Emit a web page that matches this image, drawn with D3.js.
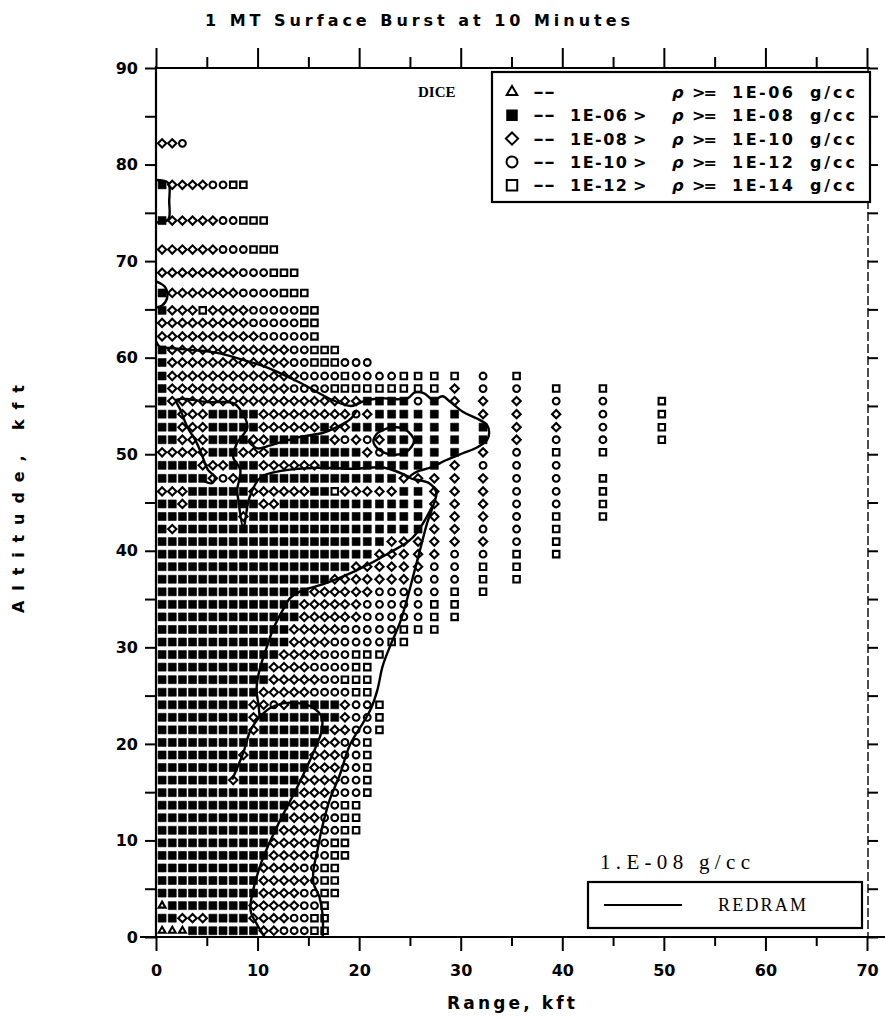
<!DOCTYPE html>
<html>
<head>
<meta charset="utf-8">
<script src="https://cdn.jsdelivr.net/npm/d3@7"></script>
<style>
  body { margin: 0; background: #fff; }
  svg text { fill: #000; }
</style>
</head>
<body>
<div id="chart"></div>
<script>
// DICE mesh column centres (range, kft)
const colRange = [0.6, 1.6, 2.6, 3.6, 4.6, 5.6, 6.6, 7.6, 8.6, 9.6, 10.6, 11.6, 12.6, 13.6, 14.6, 15.6,
  16.6, 17.6, 18.6, 19.7, 20.8, 22.0, 23.2, 24.4, 25.8, 27.4, 29.4, 32.2, 35.5, 39.4, 44.0, 49.8];

// DICE mesh row centres (altitude, kft)
const rowAlt = [0.65, 1.95, 3.25, 4.55, 5.85, 7.15, 8.45, 9.75, 11.05, 12.35, 13.65, 14.95, 16.25, 17.55,
  18.85, 20.15, 21.45, 22.75, 24.05, 25.35, 26.65, 27.95, 29.25, 30.55, 31.85, 33.15, 34.45, 35.75,
  37.05, 38.35, 39.65, 40.95, 42.25, 43.55, 44.85, 46.15, 47.5, 48.85, 50.2, 51.5, 52.8, 54.15,
  55.5, 56.8, 58.1, 59.5, 60.8, 62.2, 63.6, 64.9, 66.7, 68.8, 71.2, 74.2, 77.9, 82.2];

// density class per cell, one string per row (t: >=1E-6, F: 1E-6..1E-8, D: 1E-8..1E-10,
// C: 1E-10..1E-12, S: 1E-12..1E-14, '.': none)
const rowCells = [
  "tttFFFFFFFDDCCCSS",
  "FFDDDFFFFDDDDCCSS",
  "tFFFFFFFFDDDDDCCS",
  "FFFFFFFFFFDDDDCCSS",
  "FFFFFFFFFFDDDDDCSS",
  "FFFFFFFFFFDDDDCCSS",
  "FFFFFFFFFFFDDDDCCSS",
  "FFFFFFFFFFFDDDDCCSS",
  "FFFFFFFFFFFFDDDDCCSS",
  "FFFFFFFFFFFFFDDDCCSS",
  "FFFFFFFFFFFFFDDDCCSS",
  "FFFFFFFFFFFFFFDDDCCCS",
  "FFFFFFFDFFFFFFDDDDCCS",
  "FFFFFFFFFFFFFFFDDDCCS",
  "FFFFFFFFDFFFFFFDDDCCS",
  "FFFFFFFFFFFFFFFFDDCCS",
  "FFFFFFFFFDFFFFFFFDDCCS",
  "FFFFFFFFFDFFFFFFFFDCCS",
  "FFFFFFFFFDDCDFFFFFDCCS",
  "FFFFFFFFFFDDDDDCCCCSS",
  "FFFFFFFFFFFDDDDDCCSSS",
  "FFFFFFFFFFFDDDDCCCCSS",
  "FFFFFFFFFFFFDDDDCCCSSS",
  "FFFFFFFFFFFFFDDDDCCCCCSS",
  "FFFFFFFFFFFFFDDDDDCCCCCSSS",
  "FFFFFFFFFFFFFFDDDDDDCCCCCSS",
  "FFFFFFFFFFFFFFDDDDDDCCCCCSS",
  "FFFFFFFFFFFFFFFDDDDDDCCCCCSS",
  "FFFFFFFFFFFFFFFFFDDDDDDDCCCSS",
  "FFFFFFFFFFFFFFFFFFFDDDDDDCCSS",
  "FFFFFFFFFFFFFFFFFFFFFDDDDDCCSS",
  "FFFFFFFFFFFFFFFFFFFFFFDDDDDDCS",
  "FDFFFFFFFFFFFFFFFFFFFFFFFDDCCS",
  "FFFFFFFFDFFFFFFFFFFFFFFFFDDDCSS",
  "FFDFFFFFFFDDFFFFFFFFFFFFFDDDCCS",
  "DDDFFFFFFDDDDDDFFSDDDDDFFDDDCCS",
  "FFFFFDCDFFFFFFFFFFFFFFFDDDDDCCS",
  "FFFFDDDFFFDDDDDDFFFFFFFFFFDCCC",
  "DDDDDFFFDDDFFFFFFFFFDCFFFFFDCSS",
  "FFDDDFFFFDDFFFFFFDCDCDFFFFFFDCCS",
  "FFDDDFFFFFDDDDDDFDDFFFFFFFFFDDCS",
  "FFDDDFFFFFDDDDDDDDDCDFFFFFFDDDCS",
  "FDDDDDDDDDDDDDDDDDDDFFFFCFDDDCCS",
  "FDDDDDDDDDDDDCCCCSSSSSSSSSDCCSS",
  "FDDDDDDDDDDDDDCCCCSCCCCSSSSCS",
  "FDDDDDDDDDDDDCCSSSCCC",
  "FDDDDDDDDDDDDCCSSS",
  "DDDDDDDDDDCCCCCS",
  "DDDDDDDDDCCCCCSS",
  "FDDDSDDDDCCCCCSS",
  "FDDDDDDDCCCCSSS",
  "DDDDDDDDCCCSSS",
  "DDDDDDCCCSSS",
  "FDDDDDCCSSS",
  "FDDDDCCSS",
  "DDC"
];

// REDRAM 1.E-08 g/cc contour pieces, [range kft, altitude kft]
const redramTopLoop = [[0, 78.4], [1.2, 78.1], [1.3, 76.2], [1.2, 74.3], [0, 74.0]];
const redramSmallArc = [[0, 67.9], [0.9, 67.3], [1.1, 66.2], [0.6, 65.4], [0, 65.2]];
const redramOuter = [[0, 61.7], [0.4, 61.1], [1.4, 61.0], [3.5, 60.8], [6, 60.5], [8.5, 59.8],
  [10.9, 59.0], [14.2, 57.4], [17.4, 55.6], [19.2, 55.0], [20.5, 55.5], [22, 55.8], [23.8, 55.7],
  [24.8, 55.8], [25.5, 56.4], [26.4, 56.3], [27.3, 55.6], [28.2, 56.0], [29, 55.4], [30.2, 54.4],
  [31.6, 53.7], [32.6, 53.0], [32.8, 52.2], [32.6, 51.5], [31.6, 50.7], [30.2, 50.1], [28.6, 49.4],
  [27, 48.6], [25.7, 48.2], [25.0, 47.6], [26.9, 47.0], [27.6, 46.0], [27.3, 44.7], [26.7, 42.9],
  [26.0, 40.1], [25.3, 37.3], [24.7, 34.9], [24.0, 32.5], [23.0, 30.0], [22.3, 28.0], [21.8, 25.6],
  [21.1, 23.5], [20.4, 22.2], [19.1, 19.9], [18.1, 16.8], [17.1, 14.2], [16.3, 11.1], [15.9, 9.0],
  [15.5, 6.9], [15.5, 5.6], [16.1, 4.1], [16.4, 2.3], [16.4, 0]];
const redramInner = [[27.2, 44.6], [25.3, 41.4], [23.0, 39.8], [19.6, 37.9], [16.6, 36.6],
  [14.2, 35.8], [13.2, 35.1], [12.5, 33.9], [11.5, 31.8], [10.9, 30.0], [10.2, 27.7], [9.9, 25.6],
  [10.1, 24.0], [10.2, 22.8]];
const redramDome = [[10.2, 22.8], [11.2, 23.7], [12.5, 24.2], [14.2, 24.2], [15.4, 23.8], [16.3, 22.8],
  [16.3, 21.3], [15.7, 19.6], [13.9, 15.5], [11.9, 11.4], [10.2, 7.2], [9.3, 2.8], [9.9, 1.4], [10.7, 0]];
const redramTongue = [[10.2, 22.8], [9.3, 21.4], [8.6, 19.1], [7.5, 16.3]];
const redramLeftLobe = [[4.6, 47.3], [5.5, 47.0], [5.8, 47.6], [5.1, 48.4], [4.6, 49.7], [4.0, 51.2],
  [3.1, 52.8], [2.4, 54.6], [2.0, 55.6], [3.2, 55.7], [5.0, 55.4], [7.6, 55.3], [8.3, 54.6], [9.0, 52.8],
  [8.0, 51.2], [7.6, 49.7], [8.3, 48.4], [8.0, 46.3], [8.1, 45.3], [8.6, 42.4], [9.2, 45.5],
  [10.3, 47.6], [12.5, 48.3], [16, 48.6], [19.5, 48.5], [22.5, 48.6], [25.0, 47.6]];
const redramBandTop = [[19.8, 54.6], [19.1, 53.6], [17.8, 52.8], [16.4, 52.2], [14.2, 51.8],
  [12.5, 51.3], [10.9, 50.8], [10.0, 50.6], [9.0, 51.4]];
const redramPocket = [[21.8, 52.2], [23.2, 52.8], [24.6, 52.5], [25.4, 51.4], [24.6, 50.2],
  [23.0, 50.0], [21.8, 50.6], [21.4, 51.4], [21.8, 52.2]];
const redramPieces = [redramTopLoop, redramSmallArc, redramOuter, redramInner, redramDome,
  redramTongue, redramLeftLobe, redramBandTop, redramPocket];

// axis ticks
const xMajor = [0, 10, 20, 30, 40, 50, 60, 70];
const xMinor = [5, 15, 25, 35, 45, 55, 65];
const yMajor = [0, 10, 20, 30, 40, 50, 60, 70, 80, 90];
const yAll = [0, 5, 10, 15, 20, 25, 30, 35, 40, 45, 50, 55, 60, 65, 70, 75, 80, 85, 90];

// legend
const legendSymbols = ["t", "F", "D", "C", "S"];
const legendLow = ["", "1E-06", "1E-08", "1E-10", "1E-12"];
const legendHigh = ["1E-06", "1E-08", "1E-10", "1E-12", "1E-14"];

const width = 885, height = 1019;
const font = "'DejaVu Sans', sans-serif";
const serif = "'Liberation Serif', 'DejaVu Serif', serif";

const svg = d3.select("#chart").append("svg")
  .attr("width", width)
  .attr("height", height)
  .style("font-family", font);

const x = d3.scaleLinear().domain([0, 70]).range([156, 867]);
const y = d3.scaleLinear().domain([0, 90]).range([937, 68]);

// ---- markers ----
const tri = d3.symbolTriangle2 || d3.symbolTriangle;
const dia = d3.symbolDiamond2 || d3.symbolDiamond;
const sym = {
  t: d3.symbol().type(tri).size(34),
  F: d3.symbol().type(d3.symbolSquare).size(64),
  D: d3.symbol().type(dia).size(44),
  C: d3.symbol().type(d3.symbolCircle).size(36),
  S: d3.symbol().type(d3.symbolSquare).size(42)
};

function styleMarker(sel, k) {
  sel.attr("d", sym[k]())
    .attr("fill", k === "F" ? "#000" : "none")
    .attr("stroke", "#000")
    .attr("stroke-width", k === "F" ? 0.6 : 2.1);
}

const cells = [];
rowCells.forEach((row, i) => {
  row.split("").forEach((k, j) => {
    if (k !== ".") cells.push({alt: rowAlt[i], range: colRange[j], k: k});
  });
});

svg.append("g")
  .selectAll("path")
  .data(cells)
  .enter().append("path")
  .attr("transform", d => `translate(${x(d.range)},${y(d.alt)})`)
  .each(function(d) { styleMarker(d3.select(this), d.k); });

// ---- REDRAM contour ----
const line = d3.line()
  .x(d => x(d[0]))
  .y(d => y(d[1]))
  .curve(d3.curveCatmullRom.alpha(0.5));

svg.append("g")
  .selectAll("path")
  .data(redramPieces)
  .enter().append("path")
  .attr("d", line)
  .attr("fill", "none")
  .attr("stroke", "#000")
  .attr("stroke-width", 2.4)
  .attr("stroke-linejoin", "round");

// ---- axes ----
function plain(g) {
  g.select(".domain").remove();
  g.selectAll("line").attr("stroke", "#000").attr("stroke-width", 2);
  g.selectAll("text").style("font-size", "16px").style("font-weight", "bold")
    .style("font-family", font);
}

svg.append("g").attr("transform", "translate(0,937)")
  .call(d3.axisBottom(x).tickValues(xMajor).tickSize(14).tickPadding(14).tickFormat(d3.format("d")))
  .call(plain);
svg.append("g").attr("transform", "translate(0,937)")
  .call(d3.axisBottom(x).tickValues(xMinor).tickSize(9).tickFormat(""))
  .call(plain);
svg.append("g").attr("transform", "translate(0,68)")
  .call(d3.axisTop(x).tickValues(xMajor).tickSize(20).tickFormat(""))
  .call(plain);
svg.append("g").attr("transform", "translate(0,68)")
  .call(d3.axisTop(x).tickValues(xMinor).tickSize(11).tickFormat(""))
  .call(plain);
svg.append("g").attr("transform", "translate(156,0)")
  .call(d3.axisLeft(y).tickValues(yAll).tickSize(11).tickPadding(7)
    .tickFormat(d => yMajor.includes(d) ? d : ""))
  .call(plain);
svg.append("g").attr("transform", "translate(868,0)")
  .call(d3.axisRight(y).tickValues(yAll).tickSize(10).tickFormat(""))
  .call(plain);

// frame
svg.append("line").attr("x1", 140).attr("x2", 885).attr("y1", 937).attr("y2", 937)
  .attr("stroke", "#000").attr("stroke-width", 2.2);
svg.append("line").attr("x1", 156).attr("x2", 156).attr("y1", 66).attr("y2", 937)
  .attr("stroke", "#000").attr("stroke-width", 2.2);
svg.append("line").attr("x1", 156).attr("x2", 870).attr("y1", 68).attr("y2", 68)
  .attr("stroke", "#000").attr("stroke-width", 2.2);
svg.append("line").attr("x1", 868).attr("x2", 868).attr("y1", 68).attr("y2", 937)
  .attr("stroke", "#000").attr("stroke-width", 1.4).attr("stroke-dasharray", "9,3");

// titles
svg.append("text").attr("x", 205).attr("y", 26)
  .attr("textLength", 425).attr("lengthAdjust", "spacing")
  .style("font-size", "16px").style("font-weight", "bold")
  .text("1 MT Surface Burst at 10 Minutes");
svg.append("text").attr("x", 447).attr("y", 1009)
  .attr("textLength", 128).attr("lengthAdjust", "spacing")
  .style("font-size", "17px").style("font-weight", "bold")
  .text("Range, kft");
svg.append("text")
  .attr("transform", "translate(24,613) rotate(-90)")
  .attr("textLength", 228).attr("lengthAdjust", "spacing")
  .style("font-size", "16px").style("font-weight", "bold")
  .text("Altitude, kft");

// ---- density legend ----
const lg = svg.append("g");
lg.append("rect").attr("x", 492).attr("y", 72).attr("width", 378).attr("height", 130)
  .attr("fill", "#fff").attr("stroke", "#000").attr("stroke-width", 2.2);
const legendSym = {
  t: d3.symbol().type(tri).size(80),
  F: d3.symbol().type(d3.symbolSquare).size(90),
  D: d3.symbol().type(dia).size(95),
  C: d3.symbol().type(d3.symbolCircle).size(95),
  S: d3.symbol().type(d3.symbolSquare).size(110)
};
legendSymbols.forEach((k, i) => {
  const cy = 92 + i * 23.3;
  lg.append("path").attr("transform", `translate(512,${cy})`)
    .attr("d", legendSym[k]())
    .attr("fill", k === "F" ? "#000" : "none")
    .attr("stroke", "#000").attr("stroke-width", 2);
  const row = lg.append("g").style("font-size", "16px").style("font-weight", "bold");
  row.append("text").attr("x", 533).attr("y", cy + 5).attr("textLength", 22)
    .attr("lengthAdjust", "spacingAndGlyphs").text("--");
  if (legendLow[i]) {
    row.append("text").attr("x", 570).attr("y", cy + 6).attr("textLength", 57)
      .attr("lengthAdjust", "spacing").text(legendLow[i]);
    row.append("text").attr("x", 633).attr("y", cy + 6).text(">");
  }
  row.append("text").attr("x", 672).attr("y", cy + 6)
    .style("font-style", "italic").text("\u03c1");
  row.append("text").attr("x", 692).attr("y", cy + 6).attr("textLength", 25)
    .attr("lengthAdjust", "spacing").text(">=");
  row.append("text").attr("x", 732).attr("y", cy + 6).attr("textLength", 61)
    .attr("lengthAdjust", "spacing").text(legendHigh[i]);
  row.append("text").attr("x", 810).attr("y", cy + 6).attr("textLength", 45)
    .attr("lengthAdjust", "spacing").text("g/cc");
});

svg.append("text").attr("x", 418).attr("y", 97)
  .style("font-family", serif).style("font-size", "15px")
  .style("font-weight", "bold").text("DICE");

// ---- REDRAM legend ----
svg.append("text").attr("x", 600).attr("y", 869)
  .style("font-family", serif).style("font-size", "21px")
  .attr("textLength", 150).attr("lengthAdjust", "spacing")
  .text("1.E-08 g/cc");
svg.append("rect").attr("x", 588).attr("y", 882).attr("width", 274).attr("height", 46)
  .attr("fill", "#fff").attr("stroke", "#000").attr("stroke-width", 2.2);
svg.append("line").attr("x1", 604).attr("x2", 682).attr("y1", 905).attr("y2", 905)
  .attr("stroke", "#000").attr("stroke-width", 2.2);
svg.append("text").attr("x", 718).attr("y", 911)
  .style("font-family", serif).style("font-size", "18px")
  .attr("textLength", 88).attr("lengthAdjust", "spacing")
  .text("REDRAM");
</script>
</body>
</html>
